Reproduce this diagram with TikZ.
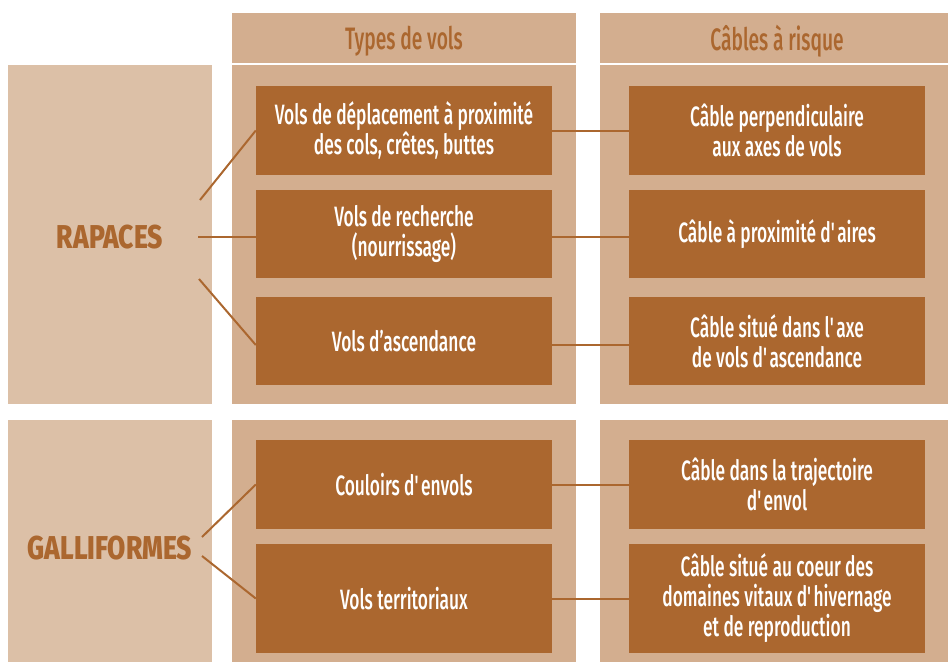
\documentclass[tikz,border=0pt]{standalone}
\usepackage{fontspec}
\setmainfont{Fira Sans}[FakeStretch=0.62,UprightFont={* Medium}]
\newfontfamily\groupfont{Fira Sans}[FakeStretch=0.8,BoldFont={* ExtraBold}]
\usetikzlibrary{positioning}
\definecolor{brun}{HTML}{AB672F}
\definecolor{sable}{HTML}{D3AE8F}
\definecolor{beige}{HTML}{DCC0A7}
\newcommand{\ap}{\textquotesingle}

\begin{document}
\begin{tikzpicture}[x=1pt,y=-1pt,on grid,
    box/.style={fill=brun,text=white,minimum width=296pt,minimum height=88pt,
      inner sep=0pt,align=center,font=\fontsize{28}{30}\selectfont},
    head/.style={text=brun,font=\fontsize{31}{33}\selectfont},
    group/.style={text=brun,font=\groupfont\fontsize{33}{36}\selectfont\bfseries},
    link/.style={draw=brun,line width=2pt}]
	   \useasboundingbox (0,0) rectangle (948,662);
	   % fonds
	   \fill[beige] (8,65) rectangle (212,404);
	   \fill[beige] (8,420) rectangle (212,662);
	   \fill[sable] (232,13) rectangle (576,63);
	   \fill[sable] (232,65) rectangle (576,404);
	   \fill[sable] (232,420) rectangle (576,662);
	   \fill[sable] (600,13) rectangle (948,63);
	   \fill[sable] (600,65) rectangle (948,404);
	   \fill[sable] (600,420) rectangle (948,662);
	   % titres
	   \node[head] (h_1) at (404,41) {Types de vols};
	   \node[head] (h_2) at (777,41) {Câbles à risque};
	   \node[group] (g_1) at (110,237) {RAPACES};
	   \node[group] (g_2) at (110,548) {GALLIFORMES};
	   % types de vols
	   \node[box,minimum height=89pt] (t_1) at (404,130.5) {Vols de déplacement à proximité\\des cols, crêtes, buttes};
	   \node[box] (t_2) [below=103.5pt of t_1] {Vols de recherche\\(nourrissage)};
	   \node[box] (t_3) [below=107pt of t_2] {Vols d’ascendance};
	   \node[box,minimum height=89pt] (t_4) [below=143.5pt of t_3] {Couloirs d\ap envols};
	   \node[box,minimum height=109pt] (t_5) [below=114pt of t_4] {Vols territoriaux};
	   % cables
	   \node[box,minimum height=89pt] (c_1) [right=373pt of t_1] {Câble perpendiculaire\\aux axes de vols};
	   \node[box] (c_2) [right=373pt of t_2] {Câble à proximité d\ap aires};
	   \node[box] (c_3) [right=373pt of t_3] {Câble situé dans l\ap axe\\de vols d\ap ascendance};
	   \node[box,minimum height=89pt] (c_4) [right=373pt of t_4] {Câble dans la trajectoire\\d\ap envol};
	   \node[box,minimum height=109pt] (c_5) [right=373pt of t_5] {Câble situé au coeur des\\domaines vitaux d\ap hivernage\\et de reproduction};
	   \coordinate (a_1) at (200,200);
	   \coordinate (a_2) at (198,237);
	   \coordinate (a_3) at (199,279);
	   \coordinate (a_4) at (202,537);
	   \coordinate (a_5) at (202,556);
	    \path[link]
	    (a_1) edge (t_1.west)
	    (a_2) edge ([yshift=-3pt]t_2.west)
	    (a_3) edge ([yshift=-4pt]t_3.west)
	    (a_4) edge (t_4.west)
	    (a_5) edge (t_5.west)
	    (t_1) edge (c_1)
	    ([yshift=-3pt]t_2.east) edge ([yshift=-3pt]c_2.west)
	    ([yshift=-4pt]t_3.east) edge ([yshift=-4pt]c_3.west)
	    (t_4) edge (c_4)
	    (t_5) edge (c_5);
	\end{tikzpicture}
\end{document}
